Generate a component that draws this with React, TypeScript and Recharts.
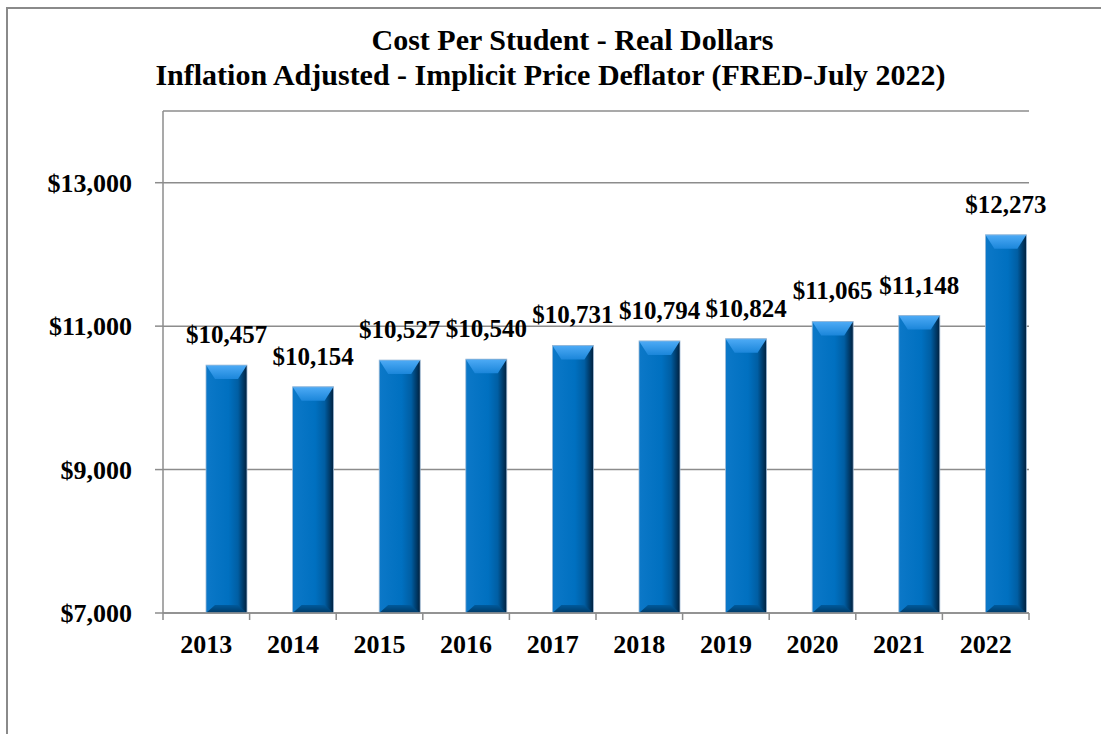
import React from 'react';
import { BarChart, Bar, XAxis, YAxis, CartesianGrid, LabelList } from 'recharts';

const years = ['2013', '2014', '2015', '2016', '2017', '2018', '2019', '2020', '2021', '2022'];
const costPerStudent = [10457, 10154, 10527, 10540, 10731, 10794, 10824, 11065, 11148, 12273];
const yTicks = [7000, 9000, 11000, 13000];
const titleLines = ['Cost Per Student - Real Dollars', 'Inflation Adjusted - Implicit Price Deflator (FRED-July 2022)'];

const data = years.map((year, i) => ({ year, cost: costPerStudent[i] }));

const SERIF = '"Liberation Serif", "Times New Roman", serif';
const GRID = '#8c8c8c';

const W = 1101;
const H = 734;
const M = { top: 111, right: 72, bottom: 81, left: 0 };
const Y_AXIS_W = 163;
const X_AXIS_H = 40;
const X_TICK_GAP = 22;
const band = (W - M.left - M.right - Y_AXIS_W) / years.length;

const money = (v: number) => '$' + v.toLocaleString('en-US');

const BevelBar = (props: any) => {
  const { x, y, width: w, height: h } = props;
  if (!h || h <= 0) return null;
  const bx = 9;
  const by = 14;
  const bb = 8;
  return (
    <g>
      <rect x={x} y={y} width={w} height={h} fill="url(#barBody)" />
      <polygon
        points={`${x},${y} ${x + w},${y} ${x + w - bx},${y + by} ${x + bx},${y + by}`}
        fill="url(#barTop)"
      />
      <polygon
        points={`${x},${y + h} ${x + w},${y + h} ${x + w - bx},${y + h - bb} ${x + bx},${y + h - bb}`}
        fill="url(#barBottom)"
      />
      <rect x={x} y={y} width={w} height={h} fill="none" stroke="#9dbad6" strokeWidth={0.8} />
    </g>
  );
};

const ValueLabel = (props: any) => {
  const { x, y, width, value } = props;
  return (
    <text
      x={x + width / 2}
      y={y - 22}
      textAnchor="middle"
      fontFamily={SERIF}
      fontWeight="bold"
      fontSize={25}
      fill="#000"
    >
      {money(value)}
    </text>
  );
};

const YearTick = (props: any) => {
  const { x, y, payload, index } = props;
  const axisY = y - X_TICK_GAP;
  return (
    <g>
      <line x1={x - band / 2} x2={x - band / 2} y1={axisY} y2={axisY + 7} stroke={GRID} strokeWidth={1.5} />
      {index === years.length - 1 && (
        <line x1={x + band / 2} x2={x + band / 2} y1={axisY} y2={axisY + 7} stroke={GRID} strokeWidth={1.5} />
      )}
      <text x={x} y={y} dy="0.71em" textAnchor="middle" fontFamily={SERIF} fontWeight="bold" fontSize={26} fill="#000">
        {payload.value}
      </text>
    </g>
  );
};

export default function App() {
  return (
    <div style={{ position: 'fixed', left: 0, top: 0, width: W, height: H, overflow: 'hidden', background: '#fff' }}>
      <div
        style={{
          position: 'absolute',
          left: 6,
          top: 7,
          width: 1130,
          height: 760,
          border: '2px solid #8a8a8a',
        }}
      />
      <div
        style={{
          position: 'absolute',
          left: 0,
          top: 22,
          width: W,
          textAlign: 'center',
          fontFamily: SERIF,
          fontWeight: 'bold',
          fontSize: 30,
          lineHeight: '35px',
          color: '#000',
        }}
      >
        <div style={{ paddingLeft: 44 }}>{titleLines[0]}</div>
        <div>{titleLines[1]}</div>
      </div>
      <div style={{ position: 'absolute', left: 0, top: 0 }}>
        <BarChart width={W} height={H} data={data} margin={M} barGap={0} barCategoryGap={4}>
          <defs>
            <linearGradient id="barBody" x1="0" y1="0" x2="1" y2="0">
              <stop offset="0%" stopColor="#0c78c8" />
              <stop offset="55%" stopColor="#0070c0" />
              <stop offset="78%" stopColor="#005ea3" />
              <stop offset="100%" stopColor="#00203d" />
            </linearGradient>
            <linearGradient id="barTop" x1="0" y1="0" x2="0" y2="1">
              <stop offset="0%" stopColor="#4eabf6" />
              <stop offset="100%" stopColor="#1b86da" />
            </linearGradient>
            <linearGradient id="barBottom" x1="0" y1="0" x2="0" y2="1">
              <stop offset="0%" stopColor="#005a9c" />
              <stop offset="100%" stopColor="#003a66" />
            </linearGradient>
          </defs>
          <CartesianGrid horizontal vertical={false} stroke={GRID} strokeWidth={1.5} />
          <XAxis
            dataKey="year"
            height={X_AXIS_H}
            tickLine={false}
            tickSize={0}
            tickMargin={X_TICK_GAP}
            tick={<YearTick />}
            interval={0}
            axisLine={{ stroke: GRID, strokeWidth: 1.5 }}
          />
          <YAxis
            width={Y_AXIS_W}
            domain={[7000, 14000]}
            ticks={yTicks}
            allowDataOverflow
            tickFormatter={money}
            tickSize={8}
            tickMargin={23}
            tickLine={{ stroke: GRID, strokeWidth: 1.5 }}
            axisLine={{ stroke: GRID, strokeWidth: 1.5 }}
            tick={{ fontFamily: SERIF, fontWeight: 'bold', fontSize: 26, fill: '#000' }}
          />
          <Bar dataKey="pad" barSize={41} fill="none" isAnimationActive={false} legendType="none" />
          <Bar dataKey="cost" barSize={41} shape={<BevelBar />} isAnimationActive={false}>
            <LabelList dataKey="cost" content={<ValueLabel />} />
          </Bar>
        </BarChart>
      </div>
    </div>
  );
}
